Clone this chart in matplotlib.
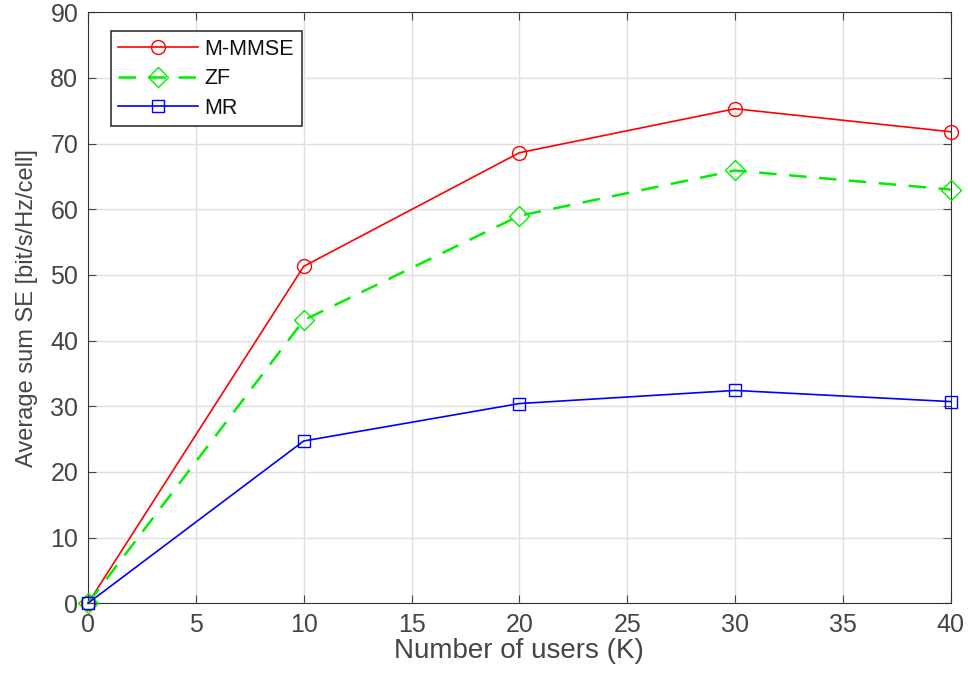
import matplotlib
matplotlib.use("Agg")
import matplotlib.pyplot as plt
import numpy as np

# numero de usuarios y SE promedio por celda
K = [0, 10, 20, 30, 40]
se_mmmse = [0, 51.3, 68.6, 75.3, 71.8]
se_zf = [0, 43.1, 59.0, 65.9, 63.0]
se_mr = [0, 24.7, 30.4, 32.4, 30.7]

plt.rcParams['font.family'] = ['Liberation Sans', 'DejaVu Sans']
gris = '#454545'

fig = plt.figure(figsize=(9.68, 6.8), dpi=100)
ax = fig.add_axes([0.091, 0.113, 0.891, 0.869])

ax.plot(K, se_mmmse, '-', color='#ff0000', marker='o', markersize=10,
        markerfacecolor='none', lw=1.2, label='M-MMSE', clip_on=False, zorder=3)
ax.plot(K, se_zf, '--', color='#00ee00', marker='D', markersize=10,
        markerfacecolor='none', lw=1.8, dashes=(7, 5), label='ZF',
        clip_on=False, zorder=3)
ax.plot(K, se_mr, '-', color='#0000ff', marker='s', markersize=8.5,
        markerfacecolor='none', lw=1.2, label='MR', clip_on=False, zorder=3)

ax.set_xlim(0, 40)
ax.set_ylim(0, 90)
ax.set_xticks(np.arange(0, 41, 5))
ax.set_yticks(np.arange(0, 91, 10))
ax.grid(True, color='#e0e0e0', lw=1)
ax.set_axisbelow(True)
ax.tick_params(direction='in', top=True, right=True, labelsize=18,
               length=6, colors=gris, pad=7)
for s in ax.spines.values():
    s.set_color('#333333')
ax.set_xlabel('Number of users (K)', fontsize=20, color=gris, labelpad=1)
ax.set_ylabel('Average sum SE [bit/s/Hz/cell]', fontsize=17, color=gris,
              labelpad=9)

leg = ax.legend(loc='upper left', bbox_to_anchor=(0.0265, 0.968),
                borderaxespad=0, fontsize=15.5, fancybox=False,
                edgecolor='#333333', framealpha=1, handlelength=3.7,
                handletextpad=0.3, borderpad=0.35, labelspacing=0.4)
leg.get_frame().set_linewidth(1.2)
for t in leg.get_texts():
    t.set_color('#111111')

fig.savefig('out.png', dpi=100)
